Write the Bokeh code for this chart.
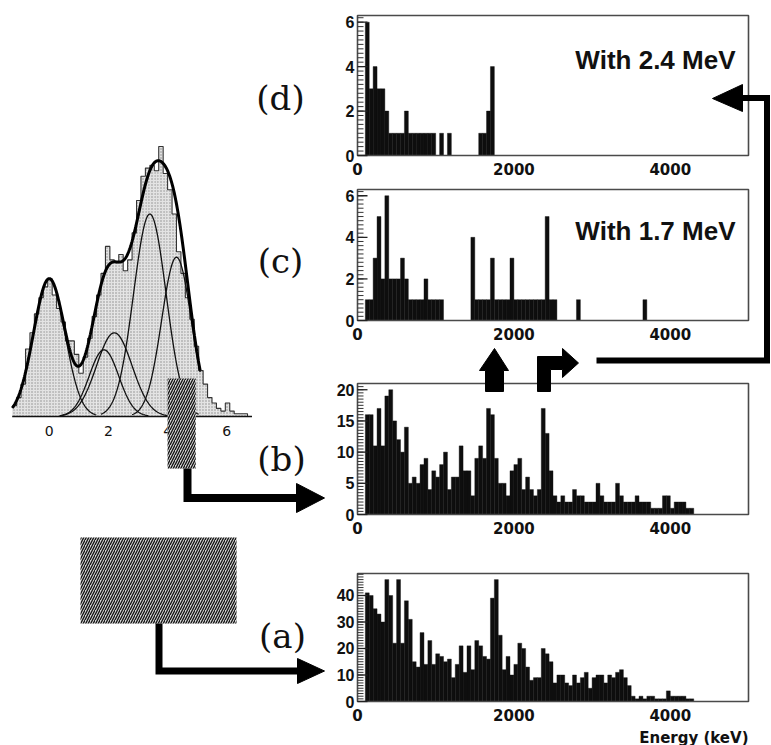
import numpy as np
from bokeh.plotting import figure
from bokeh.models import Range1d
from bokeh.core.properties import value
from bokeh.embed import file_html
from bokeh.resources import INLINE

# ---------------- data ----------------
bin_width_kev = 50
energy_ticks = [0, 2000, 4000]
energy_tick_labels = ["0", "2000", "4000"]

# (d) coincident with 2.4 MeV
counts_with_24 = [0, 0, 6, 3, 4, 3, 3, 2, 1, 1,
                  1, 1, 2, 1, 1, 1, 1, 1, 1, 1,
                  0, 1, 0, 1, 0, 0, 0, 0, 0, 0,
                  0, 1, 1, 2, 4] + [0] * 65
# (c) coincident with 1.7 MeV
counts_with_17 = [0, 0, 1, 1, 3, 5, 2, 6, 2, 2,
                  2, 3, 2, 1, 1, 1, 1, 2, 1, 1,
                  1, 1, 0, 0, 0, 0, 0, 0, 0, 4,
                  1, 1, 1, 1, 3, 1, 1, 1, 1, 3,
                  1, 1, 1, 1, 1, 1, 1, 1, 5, 1,
                  1, 0, 0, 0, 0, 0, 1, 0, 0, 0,
                  0, 0, 0, 0, 0, 0, 0, 0, 0, 0,
                  0, 0, 0, 1] + [0] * 26
# (b) gated on the hatched time window
counts_gated = [0, 0, 16, 16, 11, 17, 11, 19, 20, 15,
                12, 10, 14, 5, 6, 5, 8, 9, 4, 7,
                6, 8, 10, 4, 6, 6, 11, 7, 7, 3,
                9, 11, 9, 17, 16, 9, 5, 5, 3, 7,
                8, 9, 4, 6, 4, 3, 4, 17, 13, 7,
                3, 2, 3, 2, 2, 4, 3, 3, 2, 2,
                2, 5, 3, 2, 2, 2, 5, 3, 2, 2,
                2, 3, 2, 2, 2, 1, 1, 1, 3, 3,
                1, 2, 2, 2, 1, 1] + [0] * 14
# (a) all events
counts_all = [0, 0, 41, 40, 35, 33, 30, 46, 40, 22,
              46, 22, 38, 31, 15, 13, 26, 14, 23, 14,
              18, 17, 15, 16, 9, 14, 21, 11, 21, 12,
              23, 21, 17, 16, 39, 46, 25, 12, 17, 10,
              14, 22, 20, 13, 8, 9, 9, 20, 18, 15,
              7, 10, 10, 7, 6, 10, 7, 9, 11, 5,
              9, 10, 10, 7, 10, 9, 11, 12, 9, 6,
              2, 1, 2, 1, 2, 2, 1, 1, 1, 4,
              2, 2, 2, 2, 1, 1] + [0] * 14

yticks_d = [0, 2, 4, 6]
yticks_c = [0, 2, 4, 6]
yticks_b = [0, 5, 10, 15, 20]
yticks_a = [0, 10, 20, 30, 40]

# left: distribution with Gaussian fit
left_first_edge = -1.25
left_bin = 0.15
left_counts = [4, 7, 12, 25, 31, 38, 44, 48, 51, 45,
               40, 35, 28, 28, 23, 16, 22, 29, 37, 45,
               53, 63, 58, 57, 60, 54, 58, 68, 80, 89,
               92, 93, 91, 100, 90, 84, 75, 61, 53, 44,
               36, 26, 17, 12, 7, 5, 3, 2, 5, 2,
               1, 1, 1, 0]
left_ticks = [0, 2, 4, 6]
fit_mean = [0.0, 1.85, 2.2, 3.4, 4.3]
fit_sigma = [0.53, 0.5, 0.6, 0.55, 0.5]
fit_amp = [51, 24.7, 31, 75, 59]
fit_range = [-1.25, 5.1]
gate_window = [4.0, 4.95]

# ---------------- figure ----------------
W, H = 771, 745
p = figure(width=W, height=H, x_range=Range1d(0, W), y_range=Range1d(H, 0),
           output_backend="svg", toolbar_location=None, min_border=0,
           x_axis_type=None, y_axis_type=None, outline_line_color=None,
           background_fill_color="white", border_fill_color="white")
p.grid.visible = False

# layout constants (screen pixels)
PX0, PX1, KEV_MAX = 357.0, 748.0, 5000.0
kpx = (PX1 - PX0) / KEV_MAX

def xr(x0, ppu):
    return Range1d(start=-x0 / ppu, end=(W - x0) / ppu)

def yr(base, ppu):
    return Range1d(start=(base - H) / ppu, end=base / ppu)

panels = [
    ("yd", counts_with_24, 155.0, 15.0, 6.3, yticks_d, 0.2),
    ("yc", counts_with_17, 320.0, 189.0, 6.3, yticks_c, 0.2),
    ("yb", counts_gated, 514.0, 383.0, 21.0, yticks_b, 0.5),
    ("ya", counts_all, 701.0, 573.0, 48.3, yticks_a, 1.0),
]

LX0, LPPU = 48.7, 29.6    # left plot x mapping
LBASE, LPPC = 416.0, 2.7  # left plot y mapping

extra_x = {"xe": xr(PX0, kpx), "xl": xr(LX0, LPPU)}
extra_y = {"yl": yr(LBASE, LPPC)}
for name, cnt, base, top, ymax, ticks, minor in panels:
    extra_y[name] = yr(base, (base - top) / ymax)
p.extra_x_ranges = extra_x
p.extra_y_ranges = extra_y

bold_sans = value("Liberation Sans")
wide_sans = value("DejaVu Sans")

edges = np.arange(len(counts_all)) * bin_width_kev
for name, cnt, base, top, ymax, ticks, minor in panels:
    kw = dict(x_range_name="xe", y_range_name=name)
    p.quad(left=edges, right=edges + bin_width_kev, bottom=0, top=cnt,
           fill_color="#0e0e0e", line_color="#0e0e0e", line_width=0.4, **kw)
    # frame
    p.quad(left=[0], right=[KEV_MAX], bottom=[0], top=[ymax], fill_color=None,
           line_color="#4a4a4a", line_width=1.6, **kw)
    # ticks
    minors = np.arange(0, ymax, minor)
    p.segment(x0=0, x1=6 / kpx, y0=minors, y1=minors, line_color="#333333",
              line_width=1, **kw)
    p.segment(x0=0, x1=10 / kpx, y0=ticks, y1=ticks, line_color="#222222",
              line_width=1.3, **kw)
    p.text(x=[0] * len(ticks), y=ticks, text=[str(t) for t in ticks],
           x_offset=-3, text_align="right", text_baseline="middle",
           text_font=bold_sans, text_font_style="bold", text_font_size="16px",
           text_color="#111111", **kw)
    p.text(x=energy_ticks, y=[0] * len(energy_ticks), text=energy_tick_labels,
           y_offset=13, text_align="center", text_baseline="middle",
           text_font=wide_sans, text_font_style="bold", text_font_size="15px",
           text_color="#111111", **kw)

p.text(x=[PX1], y=[737], text=["Energy (keV)"], text_align="right",
       text_baseline="alphabetic", text_font=wide_sans, text_font_style="bold",
       text_font_size="15px", text_color="#111111")
p.text(x=[735, 735], y=[59, 230], text=["With 2.4 MeV", "With 1.7 MeV"],
       text_align="right", text_baseline="alphabetic", text_font=bold_sans,
       text_font_style="bold", text_font_size="26px", text_color="#111111")

# ---------------- left plot ----------------
lk = dict(x_range_name="xl", y_range_name="yl")
ledges = left_first_edge + np.arange(len(left_counts) + 1) * left_bin
p.quad(left=ledges[:-1], right=ledges[1:], bottom=0, top=left_counts,
       fill_color="#e2e2e2", line_color=None, hatch_pattern="dot",
       hatch_color="#8a8a8a", hatch_scale=3, hatch_weight=1, **lk)
p.step(x=ledges, y=list(left_counts) + [0], mode="after", line_color="#333333",
       line_width=1.1, **lk)
xs_all = np.linspace(fit_range[0], fit_range[1], 400)
total = np.zeros_like(xs_all)
for m, s, a in zip(fit_mean, fit_sigma, fit_amp):
    total += a * np.exp(-0.5 * ((xs_all - m) / s) ** 2)
    lo, hi = max(m - 3 * s, fit_range[0]), min(m + 3 * s, fit_range[1])
    xs = np.linspace(lo, hi, 120)
    p.line(xs, a * np.exp(-0.5 * ((xs - m) / s) ** 2), line_color="#111111",
           line_width=1.3, **lk)
p.line(xs_all, total, line_color="#000000", line_width=3, **lk)
p.segment(x0=[ledges[0]], x1=[ledges[-1]], y0=[0], y1=[0], line_color="#111111",
          line_width=1.5, **lk)
p.text(x=left_ticks, y=[0] * len(left_ticks), text=[str(t) for t in left_ticks],
       y_offset=14, text_align="center", text_baseline="middle",
       text_font=wide_sans, text_font_size="14px", text_color="#111111", **lk)
# gate window on the left distribution
p.quad(left=[gate_window[0]], right=[gate_window[1]], top=[(LBASE - 378) / LPPC],
       bottom=[(LBASE - 468) / LPPC], fill_color="#d4d4d4", line_color=None,
       hatch_pattern="right_diagonal_line", hatch_color="#111111",
       hatch_weight=1.3, hatch_scale=5, **lk)

# ---------------- annotations (screen coords) ----------------
p.quad(left=[80], right=[236], top=[537], bottom=[623], fill_color="#d4d4d4",
       line_color=None, hatch_pattern="right_diagonal_line",
       hatch_color="#111111", hatch_weight=1.3, hatch_scale=5)

p.multi_line(xs=[[187, 187, 300], [158.5, 158.5, 300], [596, 766.5, 766.5, 741]],
             ys=[[468, 497.5, 497.5], [623, 670.5, 670.5], [360, 360, 97.5, 97.5]],
             line_color="#000000", line_width=[8, 7, 6], line_join="miter",
             line_cap="butt")
p.patches(xs=[[296, 324, 296], [297, 324, 297], [742, 712, 742],
              [485, 503, 503, 508, 494, 479, 485],
              [537, 537, 562, 562, 578, 562, 562, 550, 550]],
          ys=[[483, 497.5, 512], [658, 670.5, 683], [84, 98, 111],
              [391, 391, 370, 370, 348, 370, 370],
              [391, 356, 356, 348, 362.5, 377, 369, 369, 391]],
          fill_color="#000000", line_color="#000000", line_width=1)

p.text(x=[280, 280, 281, 282], y=[97, 260, 458, 635],
       text=["(d)", "(c)", "(b)", "(a)"], text_align="center",
       text_baseline="middle", text_font=value("DejaVu Serif"),
       text_font_size="34px", text_color="#111111")

open("out.html", "w").write(file_html(p, INLINE))
